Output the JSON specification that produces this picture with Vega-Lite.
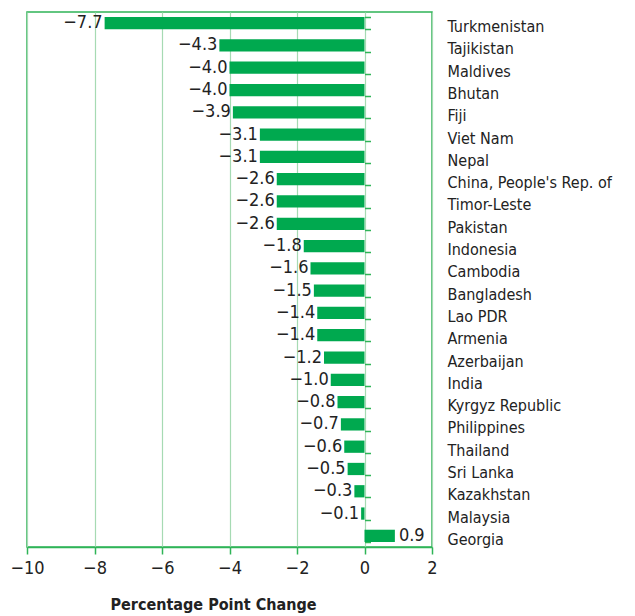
{
  "$schema": "https://vega.github.io/schema/vega-lite/v6.json",
  "autosize": {"type": "none"},
  "width": 405,
  "height": 535,
  "padding": {"left": 27, "top": 12, "right": 203, "bottom": 69},
  "background": "white",
  "config": {
    "view": {"stroke": "#2fb457", "strokeWidth": 1.5},
    "font": "DejaVu Sans Condensed, Liberation Sans"
  },
  "data": {
    "values": [
      {"country": "Turkmenistan", "value": -7.7},
      {"country": "Tajikistan", "value": -4.3},
      {"country": "Maldives", "value": -4.0},
      {"country": "Bhutan", "value": -4.0},
      {"country": "Fiji", "value": -3.9},
      {"country": "Viet Nam", "value": -3.1},
      {"country": "Nepal", "value": -3.1},
      {"country": "China, People's Rep. of", "value": -2.6},
      {"country": "Timor-Leste", "value": -2.6},
      {"country": "Pakistan", "value": -2.6},
      {"country": "Indonesia", "value": -1.8},
      {"country": "Cambodia", "value": -1.6},
      {"country": "Bangladesh", "value": -1.5},
      {"country": "Lao PDR", "value": -1.4},
      {"country": "Armenia", "value": -1.4},
      {"country": "Azerbaijan", "value": -1.2},
      {"country": "India", "value": -1.0},
      {"country": "Kyrgyz Republic", "value": -0.8},
      {"country": "Philippines", "value": -0.7},
      {"country": "Thailand", "value": -0.6},
      {"country": "Sri Lanka", "value": -0.5},
      {"country": "Kazakhstan", "value": -0.3},
      {"country": "Malaysia", "value": -0.1},
      {"country": "Georgia", "value": 0.9}
    ]
  },
  "layer": [
    {
      "mark": {"type": "bar", "color": "#00a94f"},
      "encoding": {
        "x": {"field": "value", "type": "quantitative",
          "scale": {"domain": [-10, 2], "nice": false, "zero": false},
          "axis": {
            "values": [-10, -8, -6, -4, -2, 0, 2],
            "format": "d",
            "grid": true, "gridColor": "#a6dab3", "gridWidth": 1.2,
            "domainColor": "#2fb457", "domainWidth": 1.5,
            "tickColor": "#2fb457", "tickSize": 7, "tickWidth": 1.5,
            "labelFontSize": 18, "labelColor": "#222", "labelPadding": 5,
            "labelFlush": false,
            "labelFont": "DejaVu Sans Condensed, Liberation Sans",
            "title": "Percentage Point Change",
            "titleFont": "DejaVu Sans Condensed, Liberation Sans", "titleFontSize": 16, "titleFontWeight": "bold",
            "titleColor": "#222", "titleAlign": "left", "titleAnchor": "start",
            "titleX": 83, "titleY": 49, "titleBaseline": "top"
          }
        },
        "y": {"field": "country", "type": "nominal", "sort": null,
          "scale": {"paddingInner": 0.45, "paddingOuter": 0.225},
          "axis": {
            "orient": "right", "title": null, "domain": false, "ticks": false,
            "labelPadding": 15, "labelFontSize": 16, "labelColor": "#222",
            "labelOffset": 4,
            "labelFont": "DejaVu Sans Condensed, Liberation Sans", "labelLimit": 250
          }
        }
      }
    },
    {
      "mark": {"type": "rule", "color": "#00a94f", "strokeWidth": 1.5},
      "encoding": {
        "x": {"datum": 0, "type": "quantitative"},
        "y": {"field": "country", "type": "nominal", "sort": null,
          "axis": {
            "orient": "left", "offset": -337.5, "title": null, "domain": false,
            "labels": false, "tickBand": "extent", "tickSize": -6,
            "tickColor": "#2fb457", "tickWidth": 1.5
          }
        }
      }
    },
    {
      "transform": [{"filter": "datum.value < 0"}],
      "mark": {"type": "text", "align": "right", "baseline": "middle", "dx": -2, "fontSize": 18, "color": "#222", "font": "DejaVu Sans Condensed, Liberation Sans"},
      "encoding": {
        "x": {"field": "value", "type": "quantitative"},
        "y": {"field": "country", "type": "nominal", "sort": null, "axis": null},
        "text": {"field": "value", "type": "quantitative", "format": ".1f"}
      }
    },
    {
      "transform": [{"filter": "datum.value >= 0"}],
      "mark": {"type": "text", "align": "left", "baseline": "middle", "dx": 4, "fontSize": 18, "color": "#222", "font": "DejaVu Sans Condensed, Liberation Sans"},
      "encoding": {
        "x": {"field": "value", "type": "quantitative"},
        "y": {"field": "country", "type": "nominal", "sort": null, "axis": null},
        "text": {"field": "value", "type": "quantitative", "format": ".1f"}
      }
    }
  ],
  "resolve": {"axis": {"y": "independent"}}
}
